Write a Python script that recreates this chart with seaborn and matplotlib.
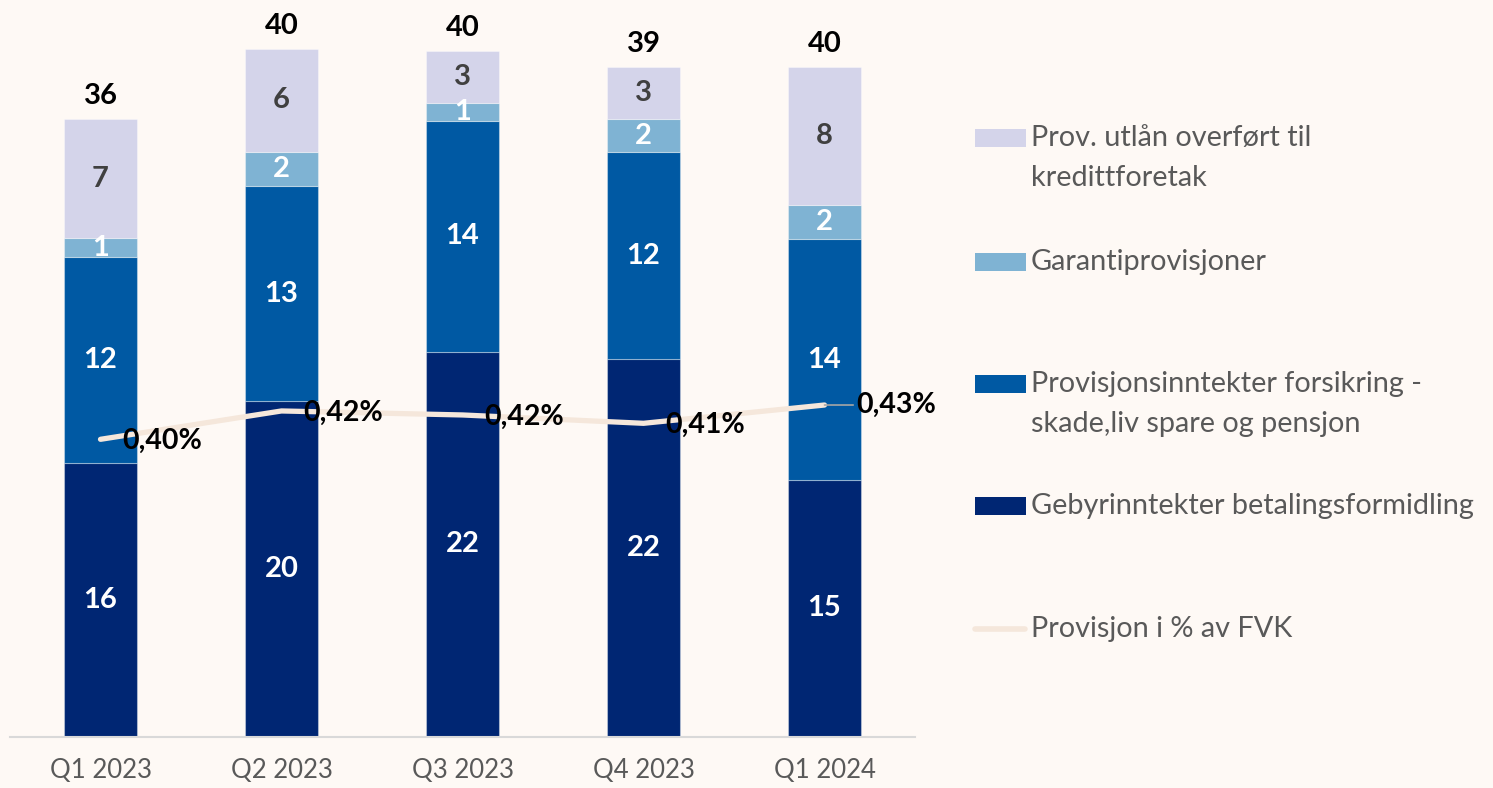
import numpy as np
import pandas as pd
import matplotlib
matplotlib.use("Agg")
import matplotlib.pyplot as plt
from matplotlib.patches import Rectangle
from matplotlib.lines import Line2D
import seaborn as sns

# data (NOK mill.)
quarters = ["Q1 2023", "Q2 2023", "Q3 2023", "Q4 2023", "Q1 2024"]
gebyr = [15.9, 19.5, 22.35, 21.95, 14.9]
forsikring = [12.0, 12.5, 13.45, 12.0, 14.0]
garanti = [1.05, 2.0, 1.03, 1.96, 2.0]
prov_utlan = [6.95, 5.97, 3.02, 3.02, 8.0]

# labels as printed on the chart
gebyr_lbl = [16, 20, 22, 22, 15]
forsikring_lbl = [12, 13, 14, 12, 14]
garanti_lbl = [1, 2, 1, 2, 2]
prov_utlan_lbl = [7, 6, 3, 3, 8]
total_lbl = [36, 40, 40, 39, 40]

# provisjon i % av FVK
prov_pct = [0.400, 0.4248, 0.4213, 0.4140, 0.430]
prov_pct_lbl = ["0,40%", "0,42%", "0,42%", "0,41%", "0,43%"]

bg = "#FEF9F5"
c_dark = "#002673"
c_mid = "#0059A3"
c_light = "#7FB3D3"
c_lav = "#D4D4EA"
c_line = "#F5E7DB"
grey_txt = "#595959"

sns.set_theme(style="white")
plt.rcParams["font.family"] = ["Lato", "DejaVu Sans"]

W, H = 1493, 788
fig = plt.figure(figsize=(W / 100, H / 100), dpi=100, facecolor=bg)
ax = fig.add_axes([10 / W, (H - 736.7) / H, 905 / W, (736.7 - 13.9) / H])
ax.set_facecolor("none")

layers = [
    ("Gebyrinntekter betalingsformidling", gebyr, gebyr_lbl, c_dark, "white"),
    ("Provisjonsinntekter forsikring", forsikring, forsikring_lbl, c_mid, "white"),
    ("Garantiprovisjoner", garanti, garanti_lbl, c_light, "white"),
    ("Prov. utlån", prov_utlan, prov_utlan_lbl, c_lav, "#404040"),
]

bottom = np.zeros(len(quarters))
for name, vals, lbls, col, tcol in layers:
    df = pd.DataFrame({"q": quarters, "v": vals})
    sns.barplot(data=df, x="q", y="v", color=col, saturation=1, width=0.4,
                bottom=bottom, errorbar=None, ax=ax,
                edgecolor=(1, 1, 1, 0.35), linewidth=0.8)
    for i, (v, l) in enumerate(zip(vals, lbls)):
        ax.text(i, bottom[i] + v / 2, str(l), ha="center", va="center",
                color=tcol, fontsize=21, fontweight="bold")
    bottom = bottom + np.array(vals)

for i, t in enumerate(total_lbl):
    ax.annotate(str(t), (i, bottom[i]), xytext=(0, 23), textcoords="offset pixels",
                ha="center", va="center", fontsize=21, fontweight="bold", color="black")

ax.set_xlim(-0.5, 4.5)
ax.set_ylim(0, 42)
ax.set_xlabel("")
ax.set_ylabel("")
ax.set_yticks([])
sns.despine(ax=ax, left=True, right=True, top=True)
ax.spines["bottom"].set_color("#D9D9D9")
ax.spines["bottom"].set_linewidth(1.5)
ax.tick_params(axis="x", length=0, pad=15, labelsize=18.5, labelcolor=grey_txt)

# line on secondary axis
ax2 = ax.twinx()
sns.lineplot(x=np.arange(len(quarters)), y=prov_pct, ax=ax2, color=c_line,
             linewidth=3.8, solid_capstyle="round")
ax2.set_ylim(0.1398, 0.7722)
ax2.set_yticks([])
ax2.set_ylabel("")
for s in ax2.spines.values():
    s.set_visible(False)

for i, (v, l) in enumerate(zip(prov_pct, prov_pct_lbl)):
    if i == len(quarters) - 1:
        ax2.annotate(l, (i, v), xytext=(32, 0), textcoords="offset pixels",
                     ha="left", va="center", fontsize=20.5, fontweight="bold",
                     color="black",
                     arrowprops=dict(arrowstyle="-", color="#A6A6A6", lw=1.2,
                                     shrinkA=0, shrinkB=0, relpos=(0, 0.5)))
    else:
        ax2.annotate(l, (i, v), xytext=(22, -2), textcoords="offset pixels",
                     ha="left", va="center", fontsize=20.5, fontweight="bold",
                     color="black")

# legend drawn beside the plot
def px(x, y):
    return x / W, 1 - y / H

legend_items = [
    (c_lav, ["Prov. utlån overført til", "kredittforetak"], 138),
    (c_light, ["Garantiprovisjoner"], 262),
    (c_mid, ["Provisjonsinntekter forsikring -", "skade,liv spare og pensjon"], 384),
    (c_dark, ["Gebyrinntekter betalingsformidling"], 506),
]
for col, lines, yc in legend_items:
    x0, y0 = px(975, yc + 9)
    fig.patches.append(Rectangle((x0, y0), 51 / W, 18 / H, transform=fig.transFigure,
                                 facecolor=col, edgecolor="none"))
    for k, line in enumerate(lines):
        tx, ty = px(1031, yc + 40 * k)
        fig.text(tx, ty, line, ha="left", va="center", fontsize=20.8, color=grey_txt)

lx0, ly = px(975, 629)
lx1, _ = px(1025, 629)
fig.lines.append(Line2D([lx0, lx1], [ly, ly], transform=fig.transFigure,
                        color=c_line, linewidth=4, solid_capstyle="round"))
tx, ty = px(1031, 629)
fig.text(tx, ty, "Provisjon i % av FVK", ha="left", va="center", fontsize=20.8, color=grey_txt)

fig.savefig("out.png", dpi=100, facecolor=bg)
